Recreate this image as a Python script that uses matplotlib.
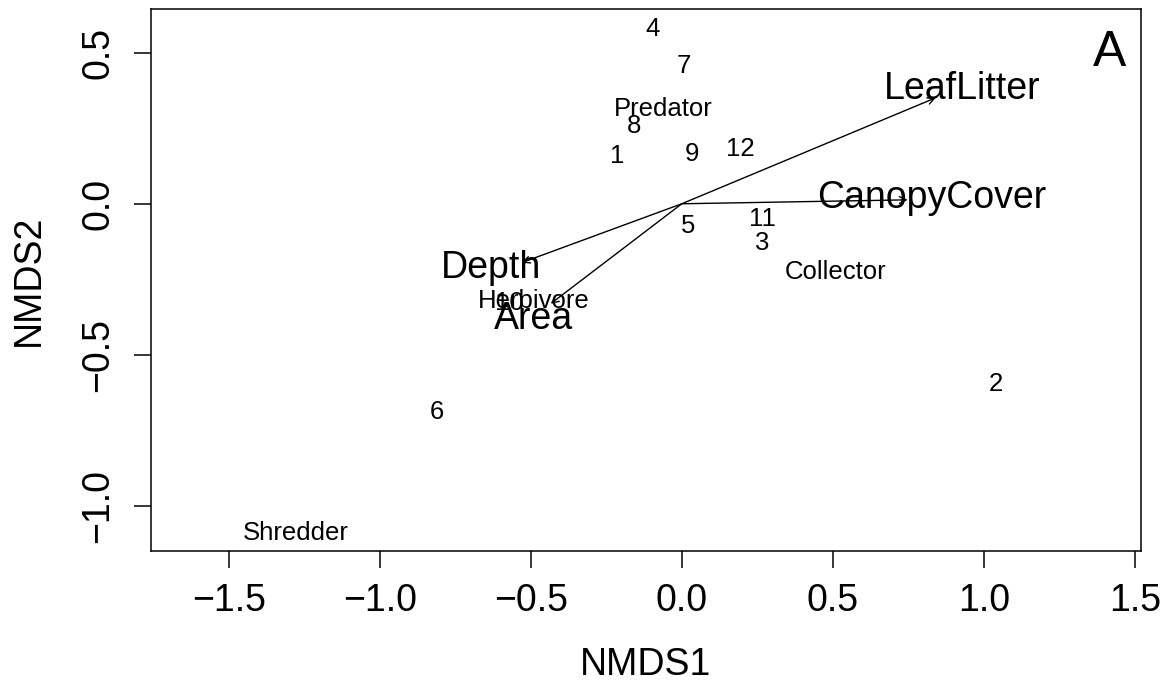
import numpy as np
import matplotlib.pyplot as plt

plt.rcParams['font.family'] = ['Liberation Sans', 'DejaVu Sans']

# site scores (NMDS1, NMDS2)
site_labels = ['1', '2', '3', '4', '5', '6', '7', '8', '9', '10', '11', '12']
site_x = [-0.215, 1.040, 0.265, -0.096, 0.020, -0.811, 0.007, -0.159, 0.033, -0.570, 0.268, 0.195]
site_y = [0.159, -0.596, -0.129, 0.579, -0.073, -0.689, 0.457, 0.258, 0.166, -0.330, -0.050, 0.182]

# functional feeding group scores
group_labels = ['Predator', 'Collector', 'Herbivore', 'Shredder']
group_x = [-0.060, 0.510, -0.490, -1.278]
group_y = [0.315, -0.225, -0.321, -1.089]

# envfit vectors
env_labels = ['LeafLitter', 'CanopyCover', 'Depth', 'Area']
env_x = [0.841, 0.748, -0.530, -0.434]
env_y = [0.351, 0.013, -0.195, -0.331]
env_lab_x = [0.930, 0.828, -0.633, -0.490]
env_lab_y = [0.381, 0.020, -0.212, -0.380]

fig = plt.figure(figsize=(11.7, 6.89), dpi=100)
ax = fig.add_axes([0.129, 0.2003, 0.846, 0.7866])

for lab, x, y in zip(site_labels, site_x, site_y):
    ax.text(x, y, lab, fontsize=18.5, ha='center', va='center')

for lab, x, y in zip(group_labels, group_x, group_y):
    ax.text(x, y, lab, fontsize=18.5, ha='center', va='center')

for x, y in zip(env_x, env_y):
    ax.annotate('', xy=(x, y), xytext=(0, 0),
                arrowprops=dict(arrowstyle='->', lw=1.0, color='black',
                                mutation_scale=12, shrinkA=0, shrinkB=0))
for lab, x, y in zip(env_labels, env_lab_x, env_lab_y):
    ax.text(x, y, lab, fontsize=27, ha='center', va='center')

ax.text(0.985, 0.962, 'A', transform=ax.transAxes, fontsize=36, ha='right', va='top')

ax.set_xlim(-1.758, 1.520)
ax.set_ylim(-1.150, 0.645)
ax.set_xticks([-1.5, -1.0, -0.5, 0.0, 0.5, 1.0, 1.5])
ax.set_yticks([-1.0, -0.5, 0.0, 0.5])
ax.set_xticklabels(['\u22121.5', '\u22121.0', '\u22120.5', '0.0', '0.5', '1.0', '1.5'])
ax.set_yticklabels(['\u22121.0', '\u22120.5', '0.0', '0.5'], rotation=90, va='center')
ax.tick_params(axis='both', labelsize=27, length=12, width=1.1, direction='out', pad=11)
ax.tick_params(axis='y', pad=13)
for sp in ax.spines.values():
    sp.set_linewidth(1.1)

ax.set_xlabel('NMDS1', fontsize=27, labelpad=20)
ax.set_ylabel('NMDS2', fontsize=27, labelpad=24)

fig.savefig('out.png', dpi=100)
